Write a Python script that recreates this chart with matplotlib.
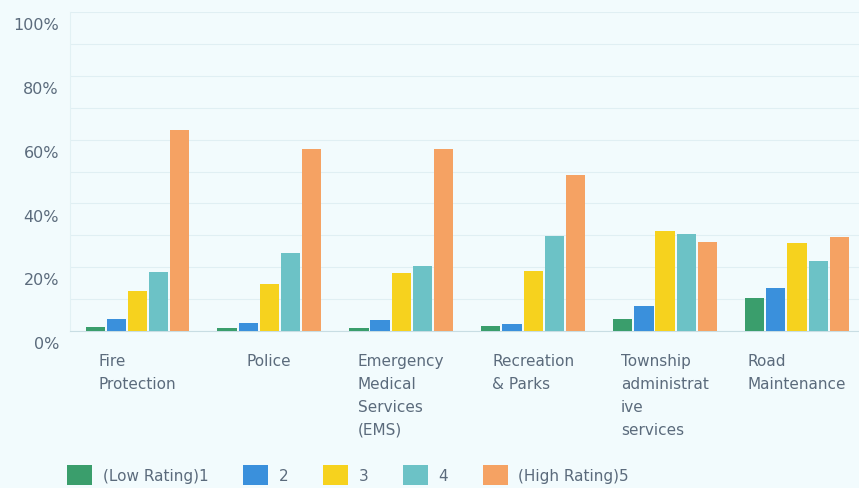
import numpy as np
import matplotlib.pyplot as plt
from matplotlib.patches import Patch
from matplotlib.transforms import ScaledTranslation

categories = ['Fire\nProtection', 'Police', 'Emergency\nMedical\nServices\n(EMS)',
              'Recreation\n& Parks', 'Township\nadministrat\nive\nservices', 'Road\nMaintenance']
series = ['(Low Rating)1', '2', '3', '4', '(High Rating)5']
rating1 = [1.2, 0.8, 0.8, 1.5, 3.8, 10.3]
rating2 = [3.8, 2.4, 3.5, 2.2, 7.8, 13.4]
rating3 = [12.7, 14.8, 18.1, 18.8, 31.5, 27.6]
rating4 = [18.5, 24.5, 20.5, 29.8, 30.3, 22.1]
rating5 = [63.0, 57.0, 57.2, 48.8, 27.9, 29.5]
colors = ['#3a9e6c', '#3a90dc', '#f6d21e', '#6cc2c6', '#f5a263']

bg = '#f2fbfd'
txt = '#5b6b7c'

fig = plt.figure(figsize=(8.59, 4.89), dpi=100, facecolor=bg)
ax = fig.add_axes([0.0815, 0.321, 0.9185, 0.652], facecolor=bg)

x = np.arange(len(categories))
pitch = 0.16
width = 0.145
values = [rating1, rating2, rating3, rating4, rating5]
for k, (vals, col) in enumerate(zip(values, colors)):
    ax.bar(x + (k - 2) * pitch, vals, width=width, color=col, zorder=3)

ax.set_ylim(0, 100)
ax.set_xlim(-0.51, 5.47)
ax.set_yticks(np.arange(0, 101, 20))
ax.set_yticks(np.arange(10, 100, 20), minor=True)
ax.set_yticklabels([f'{v}%' for v in range(0, 101, 20)], color=txt, fontsize=11.5)
ax.tick_params(axis='y', which='both', length=0, pad=8)
ax.set_xticks([])
ax.grid(axis='y', which='both', color='#e0eff3', linewidth=0.8, zorder=0)
for lab in ax.get_yticklabels():
    lab.set_transform(lab.get_transform() + ScaledTranslation(0, -8 / 72, fig.dpi_scale_trans))

for s in ['top', 'right']:
    ax.spines[s].set_visible(False)
ax.spines['left'].set_color('#e2f1f4')
ax.spines['bottom'].set_color('#c8dde3')

for i, name in enumerate(categories):
    ax.text(i, -0.07, name, transform=ax.get_xaxis_transform(),
            ha='center', va='top', multialignment='left', color=txt,
            fontsize=11, linespacing=1.65)

handles = [Patch(facecolor=c, edgecolor='none') for c in colors]
fig.legend(handles, series, loc='lower left', bbox_to_anchor=(0.075, 0.0), ncol=5,
           frameon=False, fontsize=11, labelcolor=txt, handlelength=1.6, handleheight=1.6,
           handletextpad=0.7, columnspacing=2.3, borderaxespad=0.1, borderpad=0.1)

fig.savefig('out.png', dpi=100, facecolor=bg)
